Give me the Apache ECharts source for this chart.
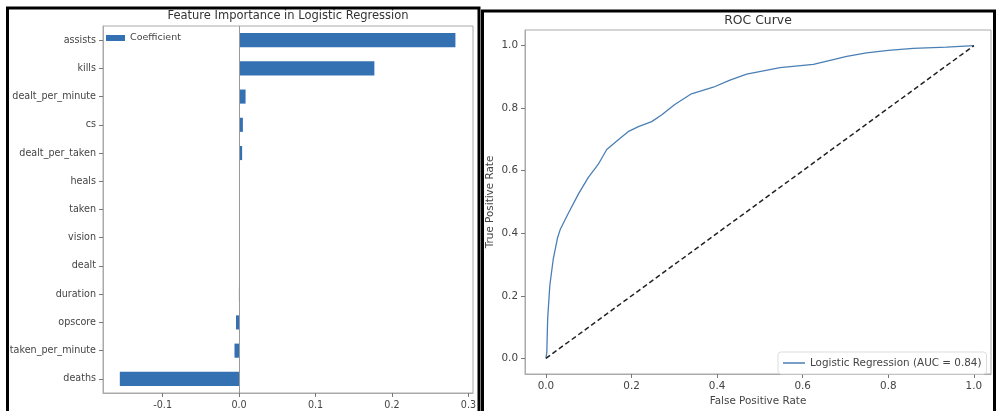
<!DOCTYPE html>
<html>
<head>
<meta charset="utf-8">
<script src="https://cdn.jsdelivr.net/npm/echarts@6/dist/echarts.min.js"></script>
<style>
html,body{margin:0;padding:0;background:#fff;}
#chart{width:996px;height:411px;}
</style>
</head>
<body>
<div id="chart"></div>
<script>
// ---- Data ----
const features = ['assists','kills','dealt_per_minute','cs','dealt_per_taken','heals','taken','vision','dealt','duration','opscore','taken_per_minute','deaths'];
const coefficients = [0.283, 0.177, 0.0085, 0.005, 0.004, 0.001, 0.0005, 0.0003, 0.0001, -0.0002, -0.004, -0.006, -0.156];
const coefTicks = [-0.1, 0.0, 0.1, 0.2, 0.3];

const fpr = [0, 0.002, 0.004, 0.009, 0.017, 0.027, 0.033, 0.052, 0.076, 0.099, 0.122, 0.142, 0.169, 0.192, 0.216, 0.247, 0.270, 0.301, 0.340, 0.391, 0.430, 0.469, 0.547, 0.625, 0.703, 0.749, 0.800, 0.858, 0.936, 1.0];
const tpr = [0, 0.020, 0.128, 0.233, 0.317, 0.385, 0.411, 0.463, 0.526, 0.579, 0.620, 0.668, 0.699, 0.725, 0.741, 0.757, 0.778, 0.812, 0.846, 0.867, 0.890, 0.909, 0.930, 0.940, 0.966, 0.977, 0.985, 0.991, 0.995, 1.0];
const chanceX = [0, 1];
const chanceY = [0, 1];
const rocTicks = [0.0, 0.2, 0.4, 0.6, 0.8, 1.0];
const rocName = 'Logistic Regression (AUC = 0.84)';

// ---- Chart ----
const FONT = 'DejaVu Sans';
const chart = echarts.init(document.getElementById('chart'), null, {renderer: 'canvas'});

const rocData = fpr.map((x, i) => [x, tpr[i]]);
const chanceData = chanceX.map((x, i) => [x, chanceY[i]]);

const tickStyle = {color: '#777', width: 1};
const spine = {show: true, onZero: false, lineStyle: {color: '#aaa', width: 1}};

const option = {
  backgroundColor: '#fff',
  animation: false,
  textStyle: {fontFamily: FONT},
  title: [
    {text: 'Feature Importance in Logistic Regression', left: 288, top: 10, textAlign: 'center', padding: 0,
     textStyle: {fontFamily: FONT, fontSize: 11.5, fontWeight: 'normal', color: '#333'}},
    {text: 'ROC Curve', left: 758, top: 15, textAlign: 'center', padding: 0,
     textStyle: {fontFamily: FONT, fontSize: 12.4, fontWeight: 'normal', color: '#333'}}
  ],
  legend: [
    {data: ['Coefficient'], left: 106, top: 33, orient: 'vertical', padding: 0,
     itemWidth: 19, itemHeight: 6, icon: 'rect',
     textStyle: {fontFamily: FONT, fontSize: 9.5, color: '#444'}},
    {data: [rocName], left: 778, top: 352, padding: [6, 5, 6, 5],
     borderColor: '#ddd', borderWidth: 1, borderRadius: 3, backgroundColor: '#fff',
     itemWidth: 22, itemHeight: 1.5, icon: 'rect',
     textStyle: {fontFamily: FONT, fontSize: 10.4, color: '#444'}}
  ],
  grid: [
    {left: 103, top: 26, width: 370, height: 367, show: true, borderColor: '#aaa', borderWidth: 1, backgroundColor: 'transparent', containLabel: false},
    {left: 525, top: 30, width: 466, height: 350, show: true, borderColor: '#aaa', borderWidth: 1, backgroundColor: 'transparent', containLabel: false}
  ],
  xAxis: [
    {type: 'value', gridIndex: 0, min: -0.178, max: 0.306,
     axisLine: spine, splitLine: {show: false},
     axisTick: {show: true, length: 4, lineStyle: tickStyle, customValues: coefTicks},
     axisLabel: {margin: 7, fontFamily: FONT, fontSize: 9.6, color: '#444', customValues: coefTicks,
       formatter: v => v.toFixed(1)}},
    {type: 'value', gridIndex: 1, min: -0.049, max: 1.04,
     name: 'False Positive Rate', nameLocation: 'middle', nameGap: 22,
     nameTextStyle: {fontFamily: FONT, fontSize: 10.4, color: '#444'},
     axisLine: spine, splitLine: {show: false},
     axisTick: {show: true, length: 4, lineStyle: tickStyle, customValues: rocTicks},
     axisLabel: {margin: 7, fontFamily: FONT, fontSize: 10.4, color: '#444', customValues: rocTicks,
       formatter: v => v.toFixed(1)}}
  ],
  yAxis: [
    {type: 'category', gridIndex: 0, data: features, inverse: true,
     axisLine: spine, splitLine: {show: false},
     axisTick: {show: true, length: 4, alignWithLabel: true, lineStyle: tickStyle},
     axisLabel: {margin: 7, fontFamily: FONT, fontSize: 9.6, color: '#444'}},
    {type: 'value', gridIndex: 1, min: -0.05, max: 1.05,
     name: 'True Positive Rate', nameLocation: 'middle', nameGap: 30, nameRotate: 90,
     nameTextStyle: {fontFamily: FONT, fontSize: 10.4, color: '#444'},
     axisLine: spine, splitLine: {show: false},
     axisTick: {show: true, length: 4, lineStyle: tickStyle, customValues: rocTicks},
     axisLabel: {margin: 7, fontFamily: FONT, fontSize: 10.4, color: '#444', customValues: rocTicks,
       formatter: v => v.toFixed(1)}}
  ],
  series: [
    {name: 'Coefficient', type: 'bar', xAxisIndex: 0, yAxisIndex: 0, data: coefficients,
     barWidth: '50%', itemStyle: {color: '#3371b3'},
     markLine: {silent: true, symbol: 'none', label: {show: false},
       lineStyle: {color: '#999', type: 'solid', width: 1},
       data: [{xAxis: 0}]}},
    {name: rocName, type: 'line', xAxisIndex: 1, yAxisIndex: 1, data: rocData,
     symbol: 'none', lineStyle: {color: '#4a7fb5', width: 1.3}, itemStyle: {color: '#4a7fb5'}},
    {name: 'Chance', type: 'line', xAxisIndex: 1, yAxisIndex: 1, data: chanceData,
     symbol: 'none', lineStyle: {color: '#222', width: 1.5, type: [5, 3]}, itemStyle: {color: '#222'}}
  ],
  graphic: [
    {type: 'rect', silent: true, z: 100, shape: {x: 7.5, y: 8, width: 471.5, height: 500},
     style: {fill: 'none', stroke: '#000', lineWidth: 3}},
    {type: 'rect', silent: true, z: 100, shape: {x: 482.5, y: 11, width: 512, height: 500},
     style: {fill: 'none', stroke: '#000', lineWidth: 3}}
  ]
};
chart.setOption(option);
</script>
</body>
</html>
